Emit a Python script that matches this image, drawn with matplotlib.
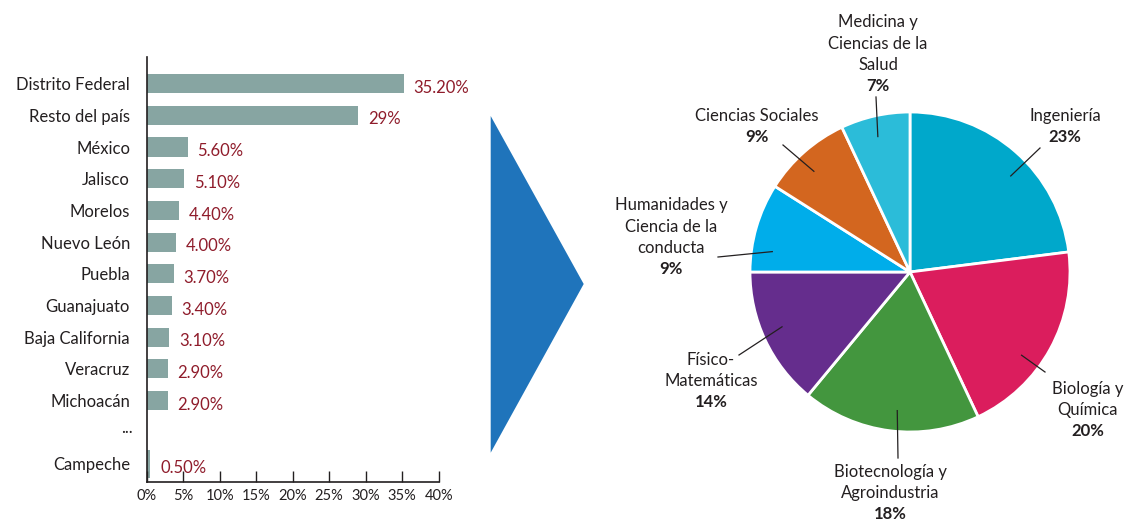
import numpy as np
import matplotlib
matplotlib.use("Agg")
import matplotlib.pyplot as plt
from matplotlib.patches import Polygon

plt.rcParams['font.family'] = ['Lato', 'DejaVu Sans']

# --- data ---
estados = ["Distrito Federal", "Resto del país", "México", "Jalisco", "Morelos",
           "Nuevo León", "Puebla", "Guanajuato", "Baja California", "Veracruz",
           "Michoacán", "Campeche"]
porcentajes = [35.2, 29, 5.6, 5.1, 4.4, 4.0, 3.7, 3.4, 3.1, 2.9, 2.9, 0.5]
etiquetas_valor = ["35.20%", "29%", "5.60%", "5.10%", "4.40%", "4.00%", "3.70%",
                   "3.40%", "3.10%", "2.90%", "2.90%", "0.50%"]
ticks_x = [0, 5, 10, 15, 20, 25, 30, 35, 40]

areas = ["Ingeniería", "Biología y\nQuímica", "Biotecnología y\nAgroindustria",
         "Físico-\nMatemáticas", "Humanidades y\nCiencia de la\nconducta",
         "Ciencias Sociales", "Medicina y\nCiencias de la\nSalud"]
areas_pct = [23, 20, 18, 14, 9, 9, 7]
colores_pie = ["#00a8cb", "#db1d5d", "#43963e", "#652d8d", "#00adea", "#d3661f", "#2bbcd9"]

# --- layout (pixels of a 1127x520 figure) ---
W, H = 1127, 520
fig = plt.figure(figsize=(W / 100, H / 100), dpi=100)

# bar chart
ax = fig.add_axes([146.7 / W, 38 / H, 292 / W, 425 / H])
pos = list(range(11)) + [12]
alturas = [0.6] * 11 + [0.88]
ax.barh(pos, porcentajes, height=alturas, color="#87a5a2")
ax.set_xlim(0, 40)
ax.set_ylim(12.57, -0.84)
ax.set_yticks(pos)
ax.set_yticklabels(estados, fontsize=12, color="#231f20")
ax.tick_params(axis='y', length=0, pad=12)
ax.set_xticks(ticks_x)
ax.set_xticklabels([f"{t}%" for t in ticks_x], fontsize=10.5, color="#231f20")
ax.tick_params(axis='x', direction='in', length=8, width=1, color="#231f20", pad=5)
for s in ["top", "right"]:
    ax.spines[s].set_visible(False)
for s in ["left", "bottom"]:
    ax.spines[s].set_color("#231f20")
    ax.spines[s].set_linewidth(1.2)
for p, v, t in zip(pos, porcentajes, etiquetas_valor):
    ax.annotate(t, (v, p), xytext=(7, -3), textcoords="offset points",
                va="center", ha="left", fontsize=12, color="#8f1c2b")
ax.annotate("...", (0, 11), xytext=(-10, 3), textcoords="offset points",
            va="center", ha="right", fontsize=12, color="#231f20")

# arrow triangle
tri = Polygon([(490.7 / W, 1 - 116 / H), (490.7 / W, 1 - 452.7 / H), (583.7 / W, 1 - 284 / H)],
              closed=True, transform=fig.transFigure, facecolor="#1f74bb", edgecolor="none")
fig.patches.append(tri)

# pie chart, centre at (910, 272) px, radius 160 px
cx, cy, R = 910, 272, 160
axp = fig.add_axes([600 / W, 0, 527 / W, 1])
wedges, _ = axp.pie(areas_pct, colors=colores_pie, startangle=90, counterclock=False,
                    radius=1, wedgeprops=dict(edgecolor="white", linewidth=2))
axp.set_aspect("auto")
axp.set_xlim((600 - cx) / R, (W - cx) / R)
axp.set_ylim(-(H - cy) / R, cy / R)
axp.axis("off")

# label placement (px): percent line centre, leader outer end, angle fraction in wedge
pct_xy = [(1065, 137), (1088, 431), (890, 514), (711, 402), (671, 269), (757, 137), (878, 86)]
lider_xy = [(1040, 148), (1045, 372), (898, 458), (739, 355), (718, 257), (783, 145), (876, 97)]
frac = [0.44, 0.39, 0.53, 0.46, 0.74, 0.57, 0.53]

for w, nombre, pct, (px, py), (lx, ly), f in zip(wedges, areas, areas_pct, pct_xy, lider_xy, frac):
    x, y = (px - cx) / R, (cy - py) / R
    axp.text(x, y, f"{pct}%", ha="center", va="center", fontsize=12,
             fontweight="bold", color="#231f20")
    axp.annotate(nombre, (x, y), xytext=(0, 9.5), textcoords="offset points",
                 ha="center", va="bottom", fontsize=12, color="#231f20",
                 linespacing=1.4, multialignment="center")
    a = np.deg2rad(w.theta1 + f * (w.theta2 - w.theta1))
    axp.plot([0.87 * np.cos(a), (lx - cx) / R], [0.87 * np.sin(a), (cy - ly) / R],
             color="#231f20", linewidth=0.9)

fig.savefig("out.png", dpi=100, facecolor="white")
